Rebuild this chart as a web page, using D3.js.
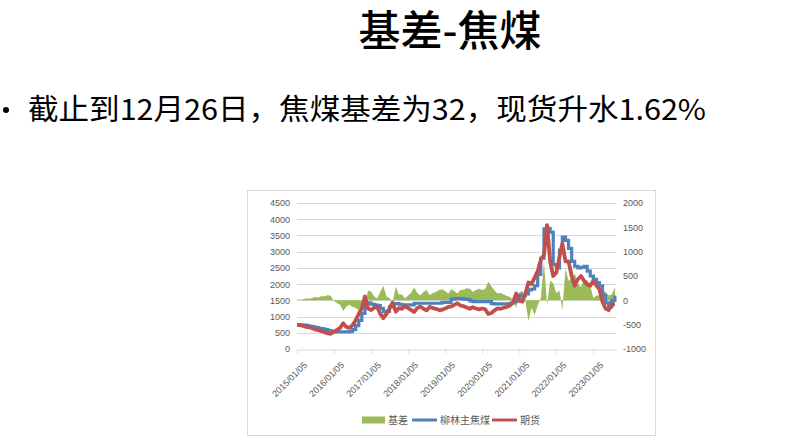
<!DOCTYPE html>
<html>
<head>
<meta charset="utf-8">
<script src="https://cdn.jsdelivr.net/npm/d3@7"></script>
<style>
  body { margin: 0; background: #fff; }
  svg { display: block; }
</style>
</head>
<body>
<script>
// weekly series, kept monthly here
const dates = [
  '2015-01-05','2015-02-05','2015-03-05','2015-04-05','2015-05-05','2015-06-05','2015-07-05','2015-08-05','2015-09-05','2015-10-05','2015-11-05','2015-12-05',
  '2016-01-05','2016-02-05','2016-03-05','2016-04-05','2016-05-05','2016-06-05','2016-07-05','2016-08-05','2016-09-05','2016-10-05','2016-11-05','2016-12-05',
  '2017-01-05','2017-02-05','2017-03-05','2017-04-05','2017-05-05','2017-06-05','2017-07-05','2017-08-05','2017-09-05','2017-10-05','2017-11-05','2017-12-05',
  '2018-01-05','2018-02-05','2018-03-05','2018-04-05','2018-05-05','2018-06-05','2018-07-05','2018-08-05','2018-09-05','2018-10-05','2018-11-05','2018-12-05',
  '2019-01-05','2019-02-05','2019-03-05','2019-04-05','2019-05-05','2019-06-05','2019-07-05','2019-08-05','2019-09-05','2019-10-05','2019-11-05','2019-12-05',
  '2020-01-05','2020-02-05','2020-03-05','2020-04-05','2020-05-05','2020-06-05','2020-07-05','2020-08-05','2020-09-05','2020-10-05','2020-11-05','2020-12-05',
  '2021-01-05','2021-02-05','2021-03-05','2021-04-05','2021-05-05','2021-06-05','2021-07-05','2021-08-05','2021-09-05','2021-10-05','2021-11-05','2021-12-05',
  '2022-01-05','2022-02-05','2022-03-05','2022-04-05','2022-05-05','2022-06-05','2022-07-05','2022-08-05','2022-09-05','2022-10-05','2022-11-05','2022-12-05',
  '2023-01-05','2023-02-05','2023-03-05','2023-04-05','2023-05-05','2023-06-05','2023-07-05','2023-08-05'
];

// 柳林主焦煤 (spot)
const spot = [
  750,745,735,720,700,680,660,640,620,600,570,540,
  530,530,530,530,530,540,600,720,880,1100,1400,1420,
  1380,1360,1340,1250,1150,1160,1300,1400,1400,1380,1360,1360,
  1360,1360,1410,1410,1410,1410,1410,1410,1410,1410,1410,1440,
  1440,1440,1540,1550,1550,1550,1540,1530,1480,1460,1460,1460,
  1460,1460,1460,1400,1390,1390,1390,1390,1390,1410,1450,1550,
  1650,1650,1700,1820,1850,1950,2300,2800,3700,3720,3600,2600,
  2500,3050,3450,3350,3100,2700,2550,2500,2520,2550,2400,2250,
  2150,2050,1950,1650,1420,1300,1500,1650
];

// 期货 (futures)
const futures = [
  740,735,715,680,670,640,600,580,550,520,480,470,
  540,590,650,790,680,650,730,880,1080,1250,1620,1250,
  1200,1280,1300,1080,950,1080,1250,1430,1150,1260,1240,1320,
  1260,1200,1140,1260,1310,1240,1190,1300,1260,1240,1200,1210,
  1250,1300,1310,1360,1410,1340,1320,1280,1240,1290,1250,1220,
  1250,1220,1080,1110,1190,1250,1240,1270,1300,1340,1450,1710,
  1480,1460,1700,2050,2000,2200,2400,2750,2900,3820,2700,2250,
  2350,2850,3250,2700,2700,2250,1950,2150,2250,2100,2000,1950,
  2100,1950,1850,1450,1250,1200,1380,1380
];

// 基差 (basis, right axis)
const basis = [
  10,10,20,40,30,50,70,60,90,80,110,90,
  -20,-60,-90,-220,-130,-90,-130,-160,-200,-130,-100,200,
  180,80,40,170,300,80,50,-30,280,120,120,40,
  100,160,270,150,100,170,220,110,150,170,210,230,
  190,140,230,190,140,210,220,250,240,170,210,240,
  210,240,380,290,200,140,150,120,90,70,0,-160,
  170,190,0,-430,-150,-300,-100,50,790,-100,400,350,
  150,200,-200,650,400,450,550,350,270,450,400,300,
  50,100,100,200,170,100,120,270
];

const leftTicks = [0, 500, 1000, 1500, 2000, 2500, 3000, 3500, 4000, 4500];
const rightTicks = [-1000, -500, 0, 500, 1000, 1500, 2000];
const xTickLabels = ['2015/01/05','2016/01/05','2017/01/05','2018/01/05','2019/01/05',
  '2020/01/05','2021/01/05','2022/01/05','2023/01/05'];
const seriesNames = ['基差', '柳林主焦煤', '期货'];

const COLORS = {basis: '#9BBB59', spot: '#4F81BD', futures: '#C0504D'};
const PLOT = {L: 297, R: 616, T: 203, B: 349};

const parse = d3.timeParse('%Y-%m-%d');
const parseTick = d3.timeParse('%Y/%m/%d');
const rows = dates.map((d, i) => ({date: parse(d), spot: spot[i], futures: futures[i], basis: basis[i]}));

const svg = d3.select('body').append('svg')
    .attr('width', 789)
    .attr('height', 443);

svg.append('rect').attr('width', 789).attr('height', 443).attr('fill', '#fff');

// heading
svg.append('text')
    .attr('x', 450)
    .attr('y', 46)
    .attr('text-anchor', 'middle')
    .style('font-family', '"Noto Sans CJK SC", sans-serif')
    .style('font-size', '42px')
    .style('font-weight', 500)
    .attr('fill', '#000')
    .text('基差-焦煤');

// bullet line
svg.append('circle').attr('cx', 6).attr('cy', 110).attr('r', 3).attr('fill', '#000');
svg.append('text')
    .attr('x', 28)
    .attr('y', 120)
    .attr('textLength', 678)
    .attr('lengthAdjust', 'spacingAndGlyphs')
    .style('font-family', '"Noto Sans CJK SC", sans-serif')
    .style('font-size', '29px')
    .attr('fill', '#000')
    .text('截止到12月26日，焦煤基差为32，现货升水1.62%');

// chart frame
svg.append('rect')
    .attr('x', 247.5).attr('y', 190.5)
    .attr('width', 408).attr('height', 245)
    .attr('fill', '#fff')
    .attr('stroke', '#D9D9D9');

const x = d3.scaleTime()
    .domain([parse('2015-01-05'), parse('2023-08-16')])
    .range([PLOT.L, PLOT.R]);
const yL = d3.scaleLinear().domain([0, 4500]).range([PLOT.B, PLOT.T]);
const yR = d3.scaleLinear().domain([-1000, 2000]).range([PLOT.B, PLOT.T]);

// gridlines
svg.append('g')
    .selectAll('line')
    .data(leftTicks.slice(1))
    .enter()
    .append('line')
    .attr('x1', PLOT.L).attr('x2', PLOT.R)
    .attr('y1', d => Math.round(yL(d)) + 0.5)
    .attr('y2', d => Math.round(yL(d)) + 0.5)
    .attr('stroke', '#D9D9D9');

const axisFont = '"Liberation Sans", Arial, sans-serif';

// left axis
const leftAxis = svg.append('g')
    .attr('transform', `translate(${PLOT.L},0)`)
    .call(d3.axisLeft(yL).tickValues(leftTicks).tickFormat(d => d).tickSize(0).tickPadding(7));
leftAxis.select('.domain').remove();
leftAxis.selectAll('text')
    .style('font-family', axisFont).style('font-size', '9px').attr('fill', '#595959');

// right axis
const rightAxis = svg.append('g')
    .attr('transform', `translate(${PLOT.R},0)`)
    .call(d3.axisRight(yR).tickValues(rightTicks).tickFormat(d => d).tickSize(0).tickPadding(7));
rightAxis.select('.domain').remove();
rightAxis.selectAll('text')
    .style('font-family', axisFont).style('font-size', '9px').attr('fill', '#595959');

// basis area
svg.append('path')
    .datum(rows)
    .attr('fill', COLORS.basis)
    .attr('d', d3.area()
        .x(d => x(d.date))
        .y0(yR(0))
        .y1(d => yR(d.basis)));

// spot line
svg.append('path')
    .datum(rows)
    .attr('fill', 'none')
    .attr('stroke', COLORS.spot)
    .attr('stroke-width', 3.2)
    .attr('d', d3.line()
        .curve(d3.curveStepAfter)
        .x(d => x(d.date))
        .y(d => yL(d.spot)));

// futures line
svg.append('path')
    .datum(rows)
    .attr('fill', 'none')
    .attr('stroke', COLORS.futures)
    .attr('stroke-width', 3.8)
    .attr('stroke-linejoin', 'round')
    .attr('d', d3.line()
        .x(d => x(d.date))
        .y(d => yL(d.futures)));

// x axis
const xAxis = svg.append('g')
    .attr('transform', `translate(0,${PLOT.B + 0.5})`)
    .call(d3.axisBottom(x)
        .tickValues(xTickLabels.map(parseTick))
        .tickFormat(d3.timeFormat('%Y/%m/%d'))
        .tickSize(4)
        .tickSizeOuter(0));
xAxis.select('.domain').attr('stroke', '#D9D9D9');
xAxis.selectAll('.tick line').attr('stroke', '#D9D9D9');
xAxis.selectAll('text')
    .style('font-family', axisFont)
    .style('font-size', '9px')
    .attr('fill', '#595959')
    .attr('text-anchor', 'end')
    .attr('dy', '0.35em')
    .attr('transform', 'translate(3,9) rotate(-45)');

// legend
const legend = svg.append('g')
    .style('font-family', '"Noto Sans CJK SC", sans-serif')
    .style('font-size', '10px');
const legendX = [362, 412, 492];
const legendW = [23, 25, 25];
const legendColors = [COLORS.basis, COLORS.spot, COLORS.futures];

legend.selectAll('g')
    .data(seriesNames)
    .enter()
    .append('g')
    .attr('transform', (d, i) => `translate(${legendX[i]},420)`)
    .each(function(d, i) {
        const g = d3.select(this);
        if (i === 0) {
            g.append('rect').attr('x', 0).attr('y', -3.5).attr('width', legendW[i]).attr('height', 7)
                .attr('fill', legendColors[i]);
        } else {
            g.append('line').attr('x1', 0).attr('x2', legendW[i]).attr('y1', 0).attr('y2', 0)
                .attr('stroke', legendColors[i]).attr('stroke-width', 3);
        }
        g.append('text')
            .attr('x', legendW[i] + 3)
            .attr('y', 0)
            .attr('dy', '0.35em')
            .attr('fill', '#595959')
            .text(d);
    });
</script>
</body>
</html>
